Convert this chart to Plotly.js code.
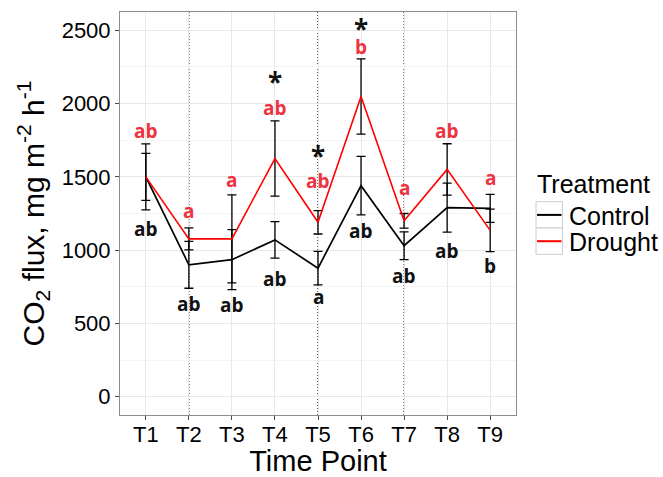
<!DOCTYPE html>
<html>
<head>
<meta charset="utf-8">
<script src="https://cdn.plot.ly/plotly-3.0.1.min.js"></script>
<style>
html,body{margin:0;padding:0;background:#fff;}
#chart{width:663px;height:477px;}
</style>
</head>
<body>
<div id="chart"></div>
<script>
// ---- data ----
const timePoints = ['T1','T2','T3','T4','T5','T6','T7','T8','T9'];
const controlMean = [1500, 900, 935, 1070, 877, 1440, 1030, 1290, 1285];
const controlSE   = [160, 160, 205, 125, 114, 200, 95, 167, 96];
const droughtMean = [1500, 1077, 1077, 1625, 1190, 2048, 1200, 1551, 1135];
const droughtSE   = [225, 75, 300, 257, 80, 257, 50, 175, 145];

const droughtLetters = ['ab','a','a','ab','ab','b','a','ab','a'];
const droughtLetterY = [1813, 1270, 1478, 1973, 1471, 2387, 1421, 1813, 1491];
const controlLetters = ['ab','ab','ab','ab','a','ab','ab','ab','b'];
const controlLetterY = [1145, 634, 627, 805, 680, 1129, 825, 997, 889];
const starPoints = ['T4','T5','T6'];
const starY = [2185, 1683, 2549];
const dottedAt = ['T2','T5','T7'];

const seriesNames = ['Control','Drought'];
const seriesColors = ['#000000','#FF0000'];

// ---- layout helpers (pixel -> paper) ----
const L = 120, R = 147, T = 12, B = 62, W = 663, H = 477;
const pw = W - L - R, ph = H - T - B;
const px = v => (v - L) / pw;
const py = v => (H - B - v) / ph;

const font = 'Liberation Sans, Arial, sans-serif';
const letterFont = 'Open Sans, sans-serif';

const traces = [
  {
    x: timePoints, y: controlMean, type: 'scatter', mode: 'lines', name: seriesNames[0],
    line: {color: seriesColors[0], width: 1.7},
    error_y: {type: 'data', array: controlSE, visible: true, color: '#000', thickness: 1.3, width: 4.5},
    hoverinfo: 'skip', showlegend: false
  },
  {
    x: timePoints, y: droughtMean, type: 'scatter', mode: 'lines', name: seriesNames[1],
    line: {color: seriesColors[1], width: 1.6},
    error_y: {type: 'data', array: droughtSE, visible: true, color: '#000', thickness: 1.3, width: 4.5},
    hoverinfo: 'skip', showlegend: false
  }
];

const annotations = [];
timePoints.forEach((t, i) => {
  annotations.push({x: t, y: droughtLetterY[i], xref: 'x', yref: 'y', text: '<b>' + droughtLetters[i] + '</b>',
    showarrow: false, font: {family: letterFont, size: 19, color: '#EE3340'}, xanchor: 'center', yanchor: 'middle'});
  annotations.push({x: t, y: controlLetterY[i], xref: 'x', yref: 'y', text: '<b>' + controlLetters[i] + '</b>',
    showarrow: false, font: {family: letterFont, size: 19, color: '#111'}, xanchor: 'center', yanchor: 'middle'});
});
starPoints.forEach((t, i) => {
  annotations.push({x: t, y: starY[i], xref: 'x', yref: 'y', text: '<b>*</b>', yshift: -6,
    showarrow: false, font: {family: letterFont, size: 26, color: '#111'}, xanchor: 'center', yanchor: 'middle'});
});

// manual legend (ggplot style)
annotations.push({x: px(535), y: py(183.7), xref: 'paper', yref: 'paper', text: 'Treatment', showarrow: false,
  xanchor: 'left', yanchor: 'middle', font: {family: font, size: 25, color: '#000'}});
const keyTop = [201.7, 228];
seriesNames.forEach((n, i) => {
  annotations.push({x: px(567), y: py(keyTop[i] + 14), xref: 'paper', yref: 'paper', text: n, showarrow: false,
    xanchor: 'left', yanchor: 'middle', font: {family: font, size: 25, color: '#000'}});
});

const shapes = [];
dottedAt.forEach(t => {
  shapes.push({type: 'line', xref: 'x', yref: 'paper', x0: t, x1: t, y0: 0, y1: 1,
    line: {color: '#000', width: 1.2, dash: '1px,2px'}, layer: 'below'});
});
seriesNames.forEach((n, i) => {
  shapes.push({type: 'rect', xref: 'paper', yref: 'paper', x0: px(536), x1: px(562.5),
    y0: py(keyTop[i] + 26.3), y1: py(keyTop[i]), line: {color: '#CCCCCC', width: 1}, fillcolor: '#FFFFFF'});
  shapes.push({type: 'line', xref: 'paper', yref: 'paper', x0: px(537), x1: px(561.5),
    y0: py(keyTop[i] + 13.2), y1: py(keyTop[i] + 13.2), line: {color: seriesColors[i], width: 2}});
});

const layout = {
  width: W, height: H,
  margin: {l: L, r: R, t: T, b: B, pad: 0},
  paper_bgcolor: '#fff', plot_bgcolor: '#fff',
  showlegend: false,
  font: {family: font, color: '#000'},
  xaxis: {
    type: 'category', categoryorder: 'array', categoryarray: timePoints,
    range: [-0.6, 8.6], showgrid: true, gridcolor: '#E8E8E8', gridwidth: 1,
    showline: true, mirror: true, linecolor: '#8C8C8C', linewidth: 1,
    ticks: 'outside', ticklen: 4, tickcolor: '#4D4D4D', tickwidth: 1, ticklabelstandoff: -4,
    tickfont: {family: font, size: 22, color: '#000'}, zeroline: false,
    title: {text: 'Time Point', font: {family: font, size: 29, color: '#000'}, standoff: 4}
  },
  yaxis: {
    range: [-125, 2625], tickvals: [0, 500, 1000, 1500, 2000, 2500],
    showgrid: true, gridcolor: '#E8E8E8', gridwidth: 1,
    minor: {dtick: 250, tick0: 250, showgrid: true, gridcolor: '#F4F4F4', gridwidth: 1, ticks: ''},
    showline: true, mirror: true, linecolor: '#8C8C8C', linewidth: 1,
    ticks: 'outside', ticklen: 4, tickcolor: '#4D4D4D', tickwidth: 1,
    tickfont: {family: font, size: 22, color: '#000'}, zeroline: false,
    title: {text: 'CO<sub>2</sub> flux, mg m<sup>-2</sup> h<sup>-1</sup>', font: {family: font, size: 30, color: '#000'}, standoff: 8}
  },
  annotations: annotations,
  shapes: shapes
};

Plotly.newPlot('chart', traces, layout, {staticPlot: true, displayModeBar: false});
</script>
</body>
</html>
